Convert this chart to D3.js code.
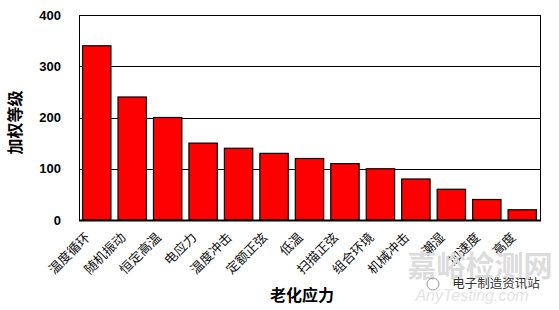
<!DOCTYPE html>
<html>
<head>
<meta charset="utf-8">
<script src="https://cdn.jsdelivr.net/npm/d3@7"></script>
<style>
  body { margin: 0; background: #fff; }
</style>
</head>
<body>
<div id="chart"></div>
<script>
const categories = ["温度循环", "随机振动", "恒定高温", "电应力", "温度冲击", "定额正弦", "低温",
    "扫描正弦", "组合环境", "机械冲击", "潮湿", "加速度", "高度"];
const values = [340, 240, 200, 150, 140, 130, 120, 110, 100, 80, 60, 40, 20];
const yTicks = [0, 100, 200, 300, 400];

const width = 559, height = 310;
const margin = ({top: 15, right: 19, bottom: 90, left: 79});

const svg = d3.select("#chart")
    .append("svg")
    .attr("width", width)
    .attr("height", height);

const x = d3.scaleBand(categories, [margin.left, width - margin.right])
    .paddingInner(0.2)
    .paddingOuter(0.1);

const y = d3.scaleLinear([0, 400], [height - margin.bottom, margin.top]);

// gridlines
svg.append("g")
    .attr("stroke", "#000")
    .attr("stroke-width", 1)
    .selectAll("line")
    .data(yTicks.slice(1))
    .join("line")
    .attr("x1", margin.left)
    .attr("x2", width - margin.right)
    .attr("y1", d => Math.round(y(d)) + 0.5)
    .attr("y2", d => Math.round(y(d)) + 0.5);

// plot frame
svg.append("rect")
    .attr("x", margin.left + 0.5)
    .attr("y", margin.top + 0.5)
    .attr("width", width - margin.right - margin.left)
    .attr("height", height - margin.bottom - margin.top)
    .attr("fill", "none")
    .attr("stroke", "#000");

// bars
svg.append("g")
    .attr("fill", "#ff0000")
    .attr("stroke", "#000")
    .attr("stroke-width", 1.2)
    .selectAll("rect")
    .data(values)
    .join("rect")
    .attr("x", (d, i) => x(categories[i]))
    .attr("y", d => y(d))
    .attr("width", x.bandwidth())
    .attr("height", d => y(0) - y(d));

// x axis baseline
svg.append("line")
    .attr("x1", margin.left)
    .attr("x2", width - margin.right + 1)
    .attr("y1", y(0) + 0.5)
    .attr("y2", y(0) + 0.5)
    .attr("stroke", "#000")
    .attr("stroke-width", 2);

// y tick labels
svg.append("g")
    .attr("font-family", "Liberation Sans, Arial, sans-serif")
    .attr("font-weight", "bold")
    .attr("font-size", 13)
    .attr("text-anchor", "end")
    .selectAll("text")
    .data(yTicks)
    .join("text")
    .attr("x", 61)
    .attr("y", d => y(d))
    .attr("dy", "0.35em")
    .text(d => d);

// x tick labels, rotated
svg.append("g")
    .attr("font-family", "Noto Sans CJK SC, sans-serif")
    .attr("font-size", 13)
    .attr("fill", "#111")
    .attr("text-anchor", "end")
    .selectAll("text")
    .data(categories)
    .join("text")
    .attr("transform", d => `translate(${x(d) + x.bandwidth() / 2 - 9},${y(0) + 15}) rotate(-45)`)
    .attr("dy", "0.35em")
    .text(d => d);

// axis titles
svg.append("text")
    .attr("transform", `translate(15,${(margin.top + height - margin.bottom) / 2 + 5}) rotate(-90)`)
    .attr("text-anchor", "middle")
    .attr("dy", "0.35em")
    .attr("font-family", "Noto Sans CJK SC, sans-serif")
    .attr("font-weight", "bold")
    .attr("font-size", 16)
    .text("加权等级");

svg.append("text")
    .attr("x", 302)
    .attr("y", 295)
    .attr("dy", "0.35em")
    .attr("text-anchor", "middle")
    .attr("font-family", "Noto Sans CJK SC, sans-serif")
    .attr("font-weight", "bold")
    .attr("font-size", 16)
    .text("老化应力");

// watermark
const wm = svg.append("g").attr("font-family", "Noto Sans CJK SC, sans-serif");
wm.append("text")
    .attr("x", 480).attr("y", 267).attr("dy", "0.35em")
    .attr("text-anchor", "middle")
    .attr("font-size", 29)
    .attr("font-weight", "bold")
    .attr("fill", "#dcdcdc")
    .text("嘉峪检测网");
wm.append("text")
    .attr("x", 472).attr("y", 295).attr("dy", "0.35em")
    .attr("text-anchor", "middle")
    .attr("font-family", "Liberation Sans, Arial, sans-serif")
    .attr("font-style", "italic")
    .attr("font-size", 16)
    .attr("fill", "#e4e4e4")
    .text("AnyTesting.com");
wm.append("circle")
    .attr("cx", 433).attr("cy", 284).attr("r", 6)
    .attr("fill", "none").attr("stroke", "#999");
wm.append("text")
    .attr("x", 496).attr("y", 284).attr("dy", "0.35em")
    .attr("text-anchor", "middle")
    .attr("font-size", 12.5)
    .attr("fill", "#333")
    .text("电子制造资讯站");
</script>
</body>
</html>
